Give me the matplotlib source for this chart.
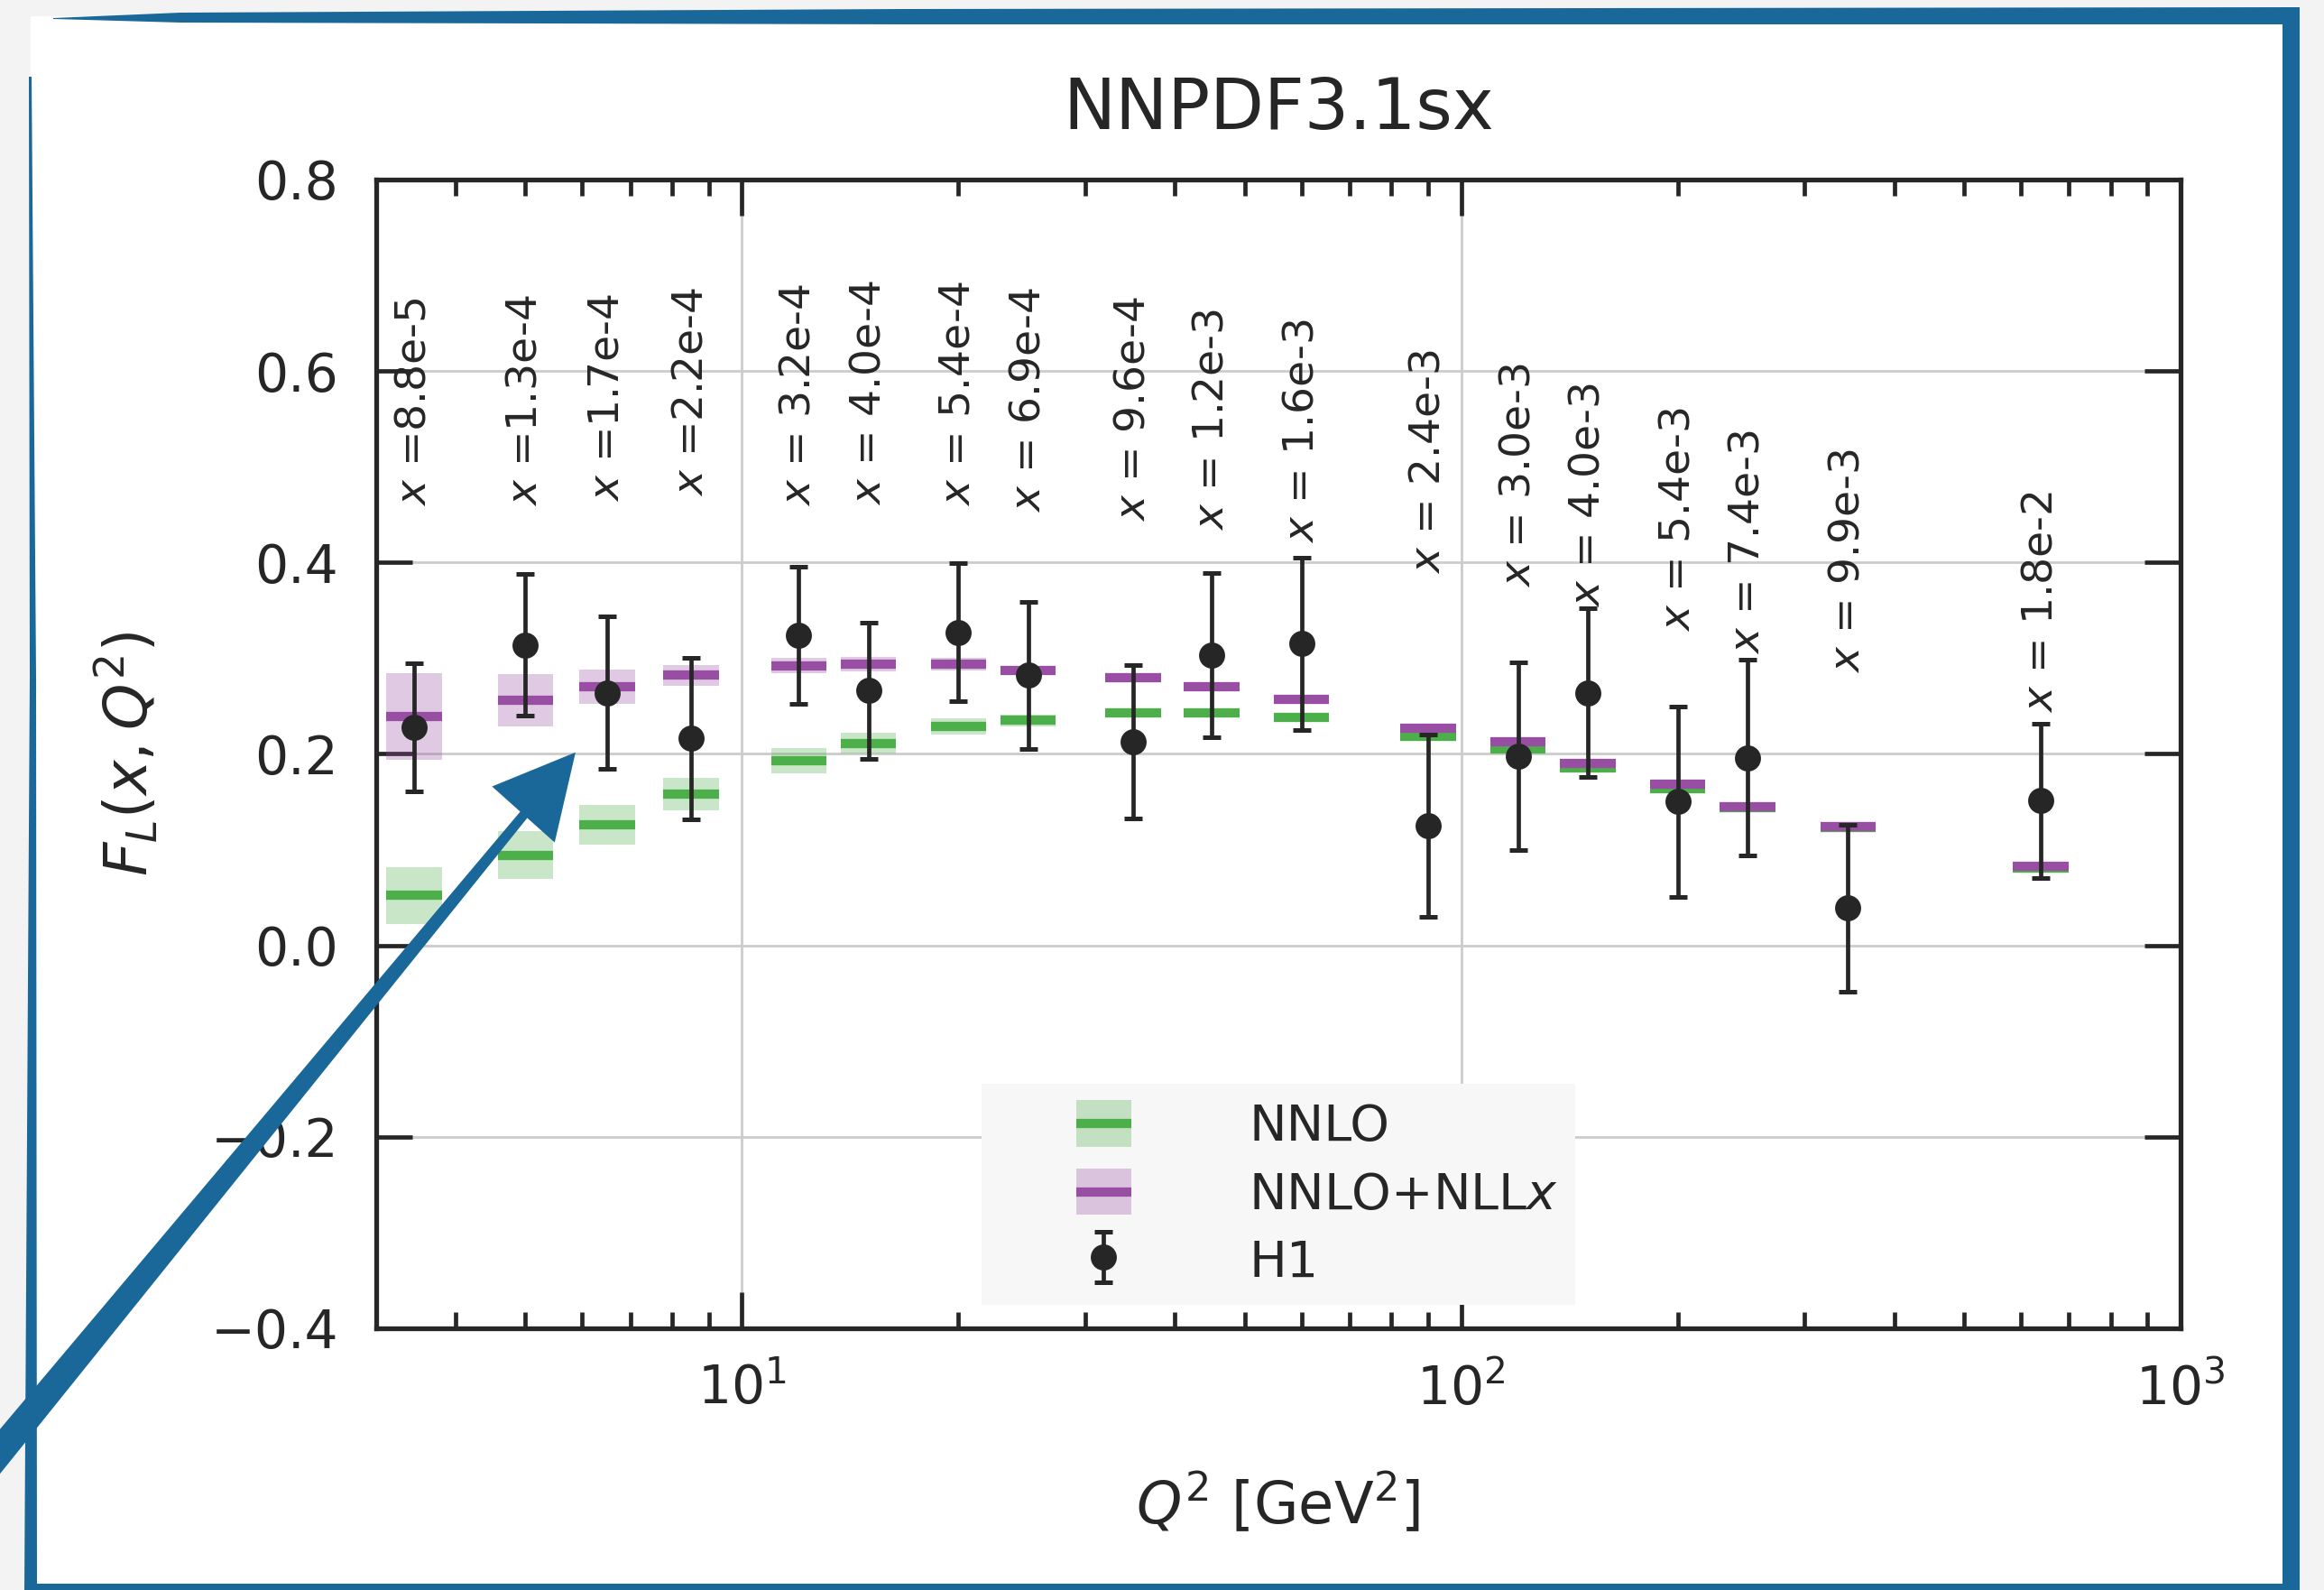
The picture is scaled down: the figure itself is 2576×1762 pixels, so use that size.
import matplotlib
matplotlib.use('Agg')
import matplotlib.pyplot as plt
from matplotlib.patches import Polygon, Rectangle, Patch
from matplotlib.lines import Line2D
from matplotlib.legend_handler import HandlerBase

# H1 F_L data and NNPDF3.1sx predictions
q2 = [3.5, 5.0, 6.5, 8.5, 12, 15, 20, 25, 35, 45, 60, 90, 120, 150, 200, 250, 345, 640]
x_vals = ['8.8e-5', '1.3e-4', '1.7e-4', '2.2e-4', '3.2e-4', '4.0e-4', '5.4e-4', '6.9e-4',
          '9.6e-4', '1.2e-3', '1.6e-3', '2.4e-3', '3.0e-3', '4.0e-3', '5.4e-3', '7.4e-3',
          '9.9e-3', '1.8e-2']
h1 = [0.228, 0.314, 0.264, 0.216, 0.324, 0.266, 0.327, 0.282, 0.213, 0.303, 0.315,
      0.125, 0.198, 0.264, 0.150, 0.196, 0.039, 0.151]
h1_err = [0.067, 0.074, 0.080, 0.084, 0.072, 0.071, 0.072, 0.077, 0.080, 0.086, 0.090,
          0.095, 0.098, 0.088, 0.099, 0.102, 0.087, 0.081]
nnlo = [0.052, 0.094, 0.126, 0.158, 0.193, 0.211, 0.229, 0.235, 0.243, 0.243, 0.238,
        0.218, 0.205, 0.185, 0.164, 0.144, 0.123, 0.081]
nnlo_err = [0.030, 0.025, 0.021, 0.017, 0.013, 0.011, 0.0085, 0.006, 0.004, 0.004, 0.004,
            0.003, 0.003, 0.003, 0.003, 0.003, 0.003, 0.003]
nllx = [0.239, 0.256, 0.270, 0.282, 0.292, 0.294, 0.294, 0.287, 0.280, 0.270, 0.257,
        0.227, 0.213, 0.190, 0.168, 0.145, 0.124, 0.083]
nllx_err = [0.045, 0.027, 0.018, 0.011, 0.008, 0.0075, 0.0065, 0.005, 0.004, 0.004, 0.004,
            0.003, 0.003, 0.003, 0.003, 0.003, 0.003, 0.003]
label_y = [0.459, 0.459, 0.463, 0.469, 0.459, 0.460, 0.459, 0.452, 0.443, 0.433, 0.420,
           0.388, 0.374, 0.353, 0.328, 0.304, 0.284, 0.243]

GREEN = '#4daf4a'
PURPLE = '#984ea3'
DARK = '#262626'
BLUE = '#1a6899'
W, H = 2576, 1762

plt.rcParams['text.color'] = DARK
plt.rcParams['axes.labelcolor'] = DARK

fig = plt.figure(figsize=(W / 200, H / 200), dpi=200, facecolor='#f3f3f3')


def px(pts):
    return [(x / W, 1 - y / H) for x, y in pts]


# white sheet + hand drawn frame and arrow
fig.add_artist(Rectangle((34 / W, 0), (2530 - 34) / W, 1 - 18 / H, transform=fig.transFigure,
                         facecolor='white', edgecolor='none', zorder=-2))
frame = [
    [(59, 20), (200, 14), (1000, 10), (2549, 8), (2549, 27), (1000, 27), (200, 25), (59, 21)],
    [(2530, 8), (2549, 8), (2549, 1762), (2530, 1762)],
    [(27, 1755), (2549, 1755), (2549, 1762), (27, 1762)],
    [(32, 85), (35, 85), (40, 750), (41, 1762), (27, 1762), (33, 750)],
]
for pts in frame:
    fig.add_artist(Polygon(px(pts), closed=True, transform=fig.transFigure,
                           facecolor=BLUE, edgecolor='none', zorder=-1))

arrow_shaft = [(-22, 1612), (-4, 1636), (583, 906), (578, 900)]
arrow_head = [(636, 836), (548, 872), (614, 931)]
for pts in (arrow_shaft, arrow_head):
    fig.add_artist(Polygon(px(pts), closed=True, transform=fig.transFigure,
                           facecolor=BLUE, edgecolor=BLUE, lw=1, zorder=10))

ax = fig.add_axes([0.1618, 0.1646, 0.7764, 0.7225])
ax.set_xscale('log')

f = 1.093
for vals, errs, c in ((nnlo, nnlo_err, GREEN), (nllx, nllx_err, PURPLE)):
    lo = [q / f for q in q2]
    hi = [q * f for q in q2]
    ax.bar(lo, [2 * e for e in errs], width=[h - l for h, l in zip(hi, lo)],
           bottom=[v - e for v, e in zip(vals, errs)], align='edge',
           color=c, alpha=0.3, linewidth=0, zorder=2)
    ax.hlines(vals, lo, hi, colors=c, linewidth=3.7, zorder=3)

eb = ax.errorbar(q2, h1, yerr=h1_err, fmt='o', color=DARK, ms=9.4, elinewidth=1.7,
                 capsize=3.7, capthick=1.8, zorder=4)

for i, (q, s, y) in enumerate(zip(q2, x_vals, label_y)):
    txt = r'$x$ =' + s if i < 4 else r'$x$ = ' + s
    ax.text(q, y, txt, rotation=90, ha='center', va='bottom', fontsize=17, color=DARK)

ax.set_xlim(3.1, 1000)
ax.set_ylim(-0.4, 0.8)
ax.set_yticks([-0.4, -0.2, 0.0, 0.2, 0.4, 0.6, 0.8])
ax.grid(True, which='major', color='#cccccc', linewidth=1.0)
ax.set_axisbelow(True)
for sp in ax.spines.values():
    sp.set_linewidth(1.9)
    sp.set_color(DARK)
ax.tick_params(which='both', direction='in', top=True, right=True, width=1.7,
               color=DARK, labelcolor=DARK)
ax.tick_params(which='major', length=14.5, labelsize=21)
ax.tick_params(which='minor', length=6.5)
ax.tick_params(axis='y', pad=15)
ax.tick_params(axis='x', pad=14)

ax.set_title('NNPDF3.1sx', fontsize=28, pad=20, color=DARK)
ax.set_xlabel(r'$Q^2$ [GeV$^2$]', fontsize=23, labelpad=22)
ax.set_ylabel(r'$F_L(x,Q^2)$', fontsize=23.5, labelpad=20)


class BandHandler(HandlerBase):
    def __init__(self, color, w=1.1):
        super().__init__()
        self.color = color
        self.w = w

    def create_artists(self, legend, orig_handle, xdescent, ydescent, width, height,
                       fontsize, trans):
        w = self.w * fontsize
        x0 = -xdescent + (width - w) / 2
        rect = Rectangle((x0, -ydescent), w, height, facecolor=self.color, alpha=0.3,
                         edgecolor='none', transform=trans)
        ym = -ydescent + height / 2
        line = Line2D([x0, x0 + w], [ym, ym], color=self.color, lw=3.7,
                      solid_capstyle='butt', transform=trans)
        return [rect, line]


h_nnlo = Patch(color=GREEN)
h_nllx = Patch(color=PURPLE)
leg = ax.legend([h_nnlo, h_nllx, eb], ['NNLO', r'NNLO+NLL$x$', 'H1'],
                handler_map={h_nnlo: BandHandler(GREEN), h_nllx: BandHandler(PURPLE)},
                loc='lower center', fontsize=20, handlelength=4.2, handleheight=1.05,
                handletextpad=0.8, borderpad=0.335, labelspacing=0.34, borderaxespad=0.47,
                frameon=True, facecolor='#f7f7f7', edgecolor='none', framealpha=1,
                fancybox=False)

fig.savefig('out.png', dpi=200, facecolor=fig.get_facecolor())
